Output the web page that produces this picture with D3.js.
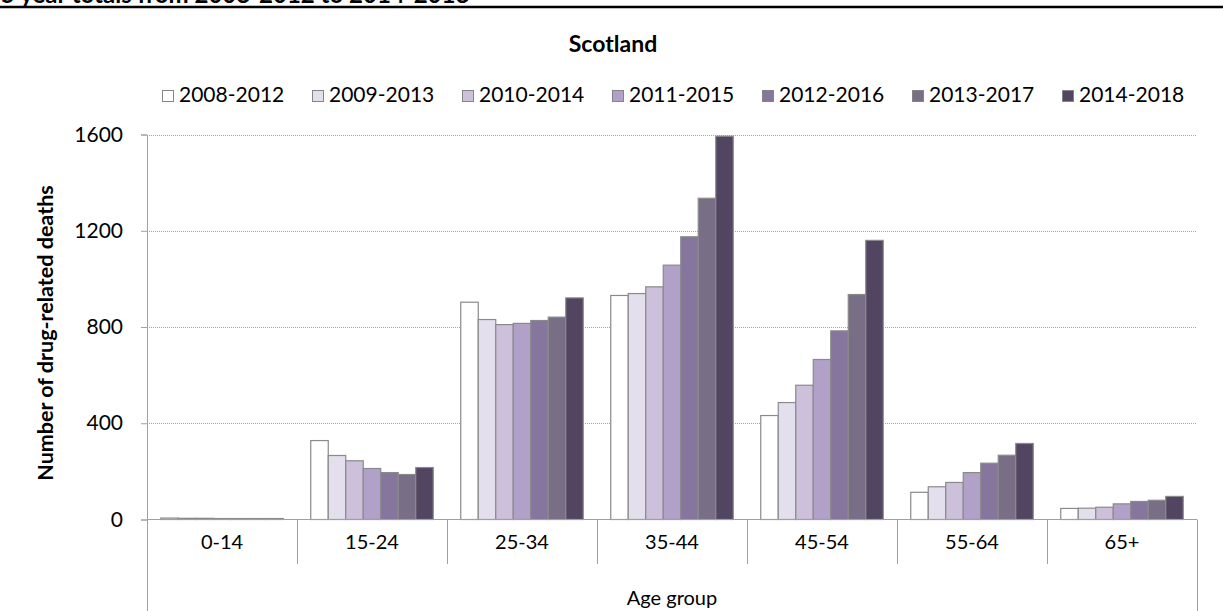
<!DOCTYPE html>
<html><head><meta charset="utf-8">
<script src="https://cdn.jsdelivr.net/npm/d3@7"></script>
<style>
html,body{margin:0;padding:0;background:#fff;}
svg{display:block;}
text{font-family:Lato,"Open Sans",sans-serif;fill:#000;}
</style></head>
<body>
<svg id="chart" width="1223" height="611"></svg>
<script>
const categories = ["0-14","15-24","25-34","35-44","45-54","55-64","65+"];
const seriesNames = ["2008-2012","2009-2013","2010-2014","2011-2015","2012-2016","2013-2017","2014-2018"];
const s2008_2012 = [6, 328, 903, 931, 432, 113, 46];
const s2009_2013 = [5, 266, 831, 939, 486, 136, 47];
const s2010_2014 = [5, 244, 810, 967, 558, 154, 51];
const s2011_2015 = [4, 212, 815, 1057, 665, 195, 65];
const s2012_2016 = [4, 195, 827, 1175, 784, 234, 75];
const s2013_2017 = [4, 187, 841, 1335, 935, 267, 80];
const s2014_2018 = [4, 216, 921, 1593, 1160, 316, 96];
const seriesValues = [s2008_2012, s2009_2013, s2010_2014, s2011_2015, s2012_2016, s2013_2017, s2014_2018];
const colors = ["#ffffff","#e4dfec","#ccc0da","#b1a0c7","#86769e","#786e86","#524562"];
const yTicks = [0, 400, 800, 1200, 1600];

(function(){
const svg = d3.select("#chart");

// top cut-off heading and rule
svg.append("text").attr("x", 1).attr("y", 3)
  .style("font-weight", "bold").style("font-size", "24px")
  .text("5 year totals from 2008-2012 to 2014-2018");
svg.append("line").attr("x1", 0).attr("x2", 1223).attr("y1", 7).attr("y2", 7)
  .attr("stroke", "#000").attr("stroke-width", 2.5);

const pLeft = 147, pRight = 1197, pTop = 134.5, pBottom = 519.5;
const x0 = d3.scaleBand().domain(categories).range([pLeft, pRight]).padding(0);
const x1 = d3.scaleBand().domain(seriesNames).range([13.75, 136.25]).padding(0);
const y = d3.scaleLinear().domain([0, 1600]).range([pBottom, pTop]);

// gridlines
svg.append("g").selectAll("line").data(yTicks.filter(d => d > 0)).join("line")
  .attr("x1", pLeft).attr("x2", pRight)
  .attr("y1", d => Math.round(y(d)) + 0.5).attr("y2", d => Math.round(y(d)) + 0.5)
  .attr("stroke", "#a6a6a6").attr("stroke-width", 1).attr("stroke-dasharray", "1,1");

// bars
const data = [];
categories.forEach((c, i) => seriesNames.forEach((s, j) => data.push({c, s, j, v: seriesValues[j][i]})));
svg.append("g").selectAll("rect").data(data).join("rect")
  .attr("x", d => x0(d.c) + x1(d.s))
  .attr("width", x1.bandwidth())
  .attr("y", d => y(d.v))
  .attr("height", d => y(0) - y(d.v))
  .attr("fill", d => colors[d.j])
  .attr("stroke", "#8a8a8a").attr("stroke-width", 1.2);

// y axis
const yAxis = d3.axisLeft(y).tickValues(yTicks).tickSize(6).tickPadding(18).tickFormat(d3.format("d"));
const ya = svg.append("g").attr("transform", `translate(${pLeft},0)`).call(yAxis);
ya.select(".domain").attr("stroke", "#a0a0a0");
ya.selectAll(".tick line").attr("stroke", "#a0a0a0");
ya.selectAll(".tick text").style("font-size", "21px").style("font-family", "Lato").attr("fill", "#000");

// x axis baseline and category separators
svg.append("line").attr("x1", pLeft).attr("x2", pRight).attr("y1", pBottom).attr("y2", pBottom)
  .attr("stroke", "#a0a0a0");
const bounds = categories.map(c => x0(c)).concat([pRight]);
svg.append("g").selectAll("line").data(bounds).join("line")
  .attr("x1", d => d + 0.5).attr("x2", d => d + 0.5)
  .attr("y1", pBottom)
  .attr("y2", (d, i) => (i === 0 || i === bounds.length - 1) ? 611 : 564)
  .attr("stroke", "#a0a0a0");
svg.append("g").selectAll("text").data(categories).join("text")
  .attr("x", d => x0(d) + x0.bandwidth() / 2).attr("y", 548.5)
  .attr("text-anchor", "middle").style("font-size", "20px").text(d => d);
svg.append("text").attr("x", (pLeft + pRight) / 2).attr("y", 604.5)
  .attr("text-anchor", "middle").style("font-size", "20px").text("Age group");

// y axis title
svg.append("text").attr("transform", `translate(53,${333}) rotate(-90)`)
  .attr("text-anchor", "middle").style("font-size", "21.5px").style("font-weight", "bold")
  .text("Number of drug-related deaths");

// chart title
svg.append("text").attr("x", 613).attr("y", 52).attr("text-anchor", "middle")
  .style("font-size", "23px").style("font-weight", "bold").text("Scotland");

// legend
const lg = svg.append("g").selectAll("g").data(seriesNames).join("g")
  .attr("transform", (d, i) => `translate(${162 + i * 150},0)`);
lg.append("rect").attr("x", 0.5).attr("y", 90.5).attr("width", 11).attr("height", 11)
  .attr("fill", (d, i) => colors[i]).attr("stroke", "#858585").attr("stroke-width", 1);
lg.append("text").attr("x", 17).attr("y", 102).style("font-size", "21px").text(d => d);
})();
</script>
</body></html>
